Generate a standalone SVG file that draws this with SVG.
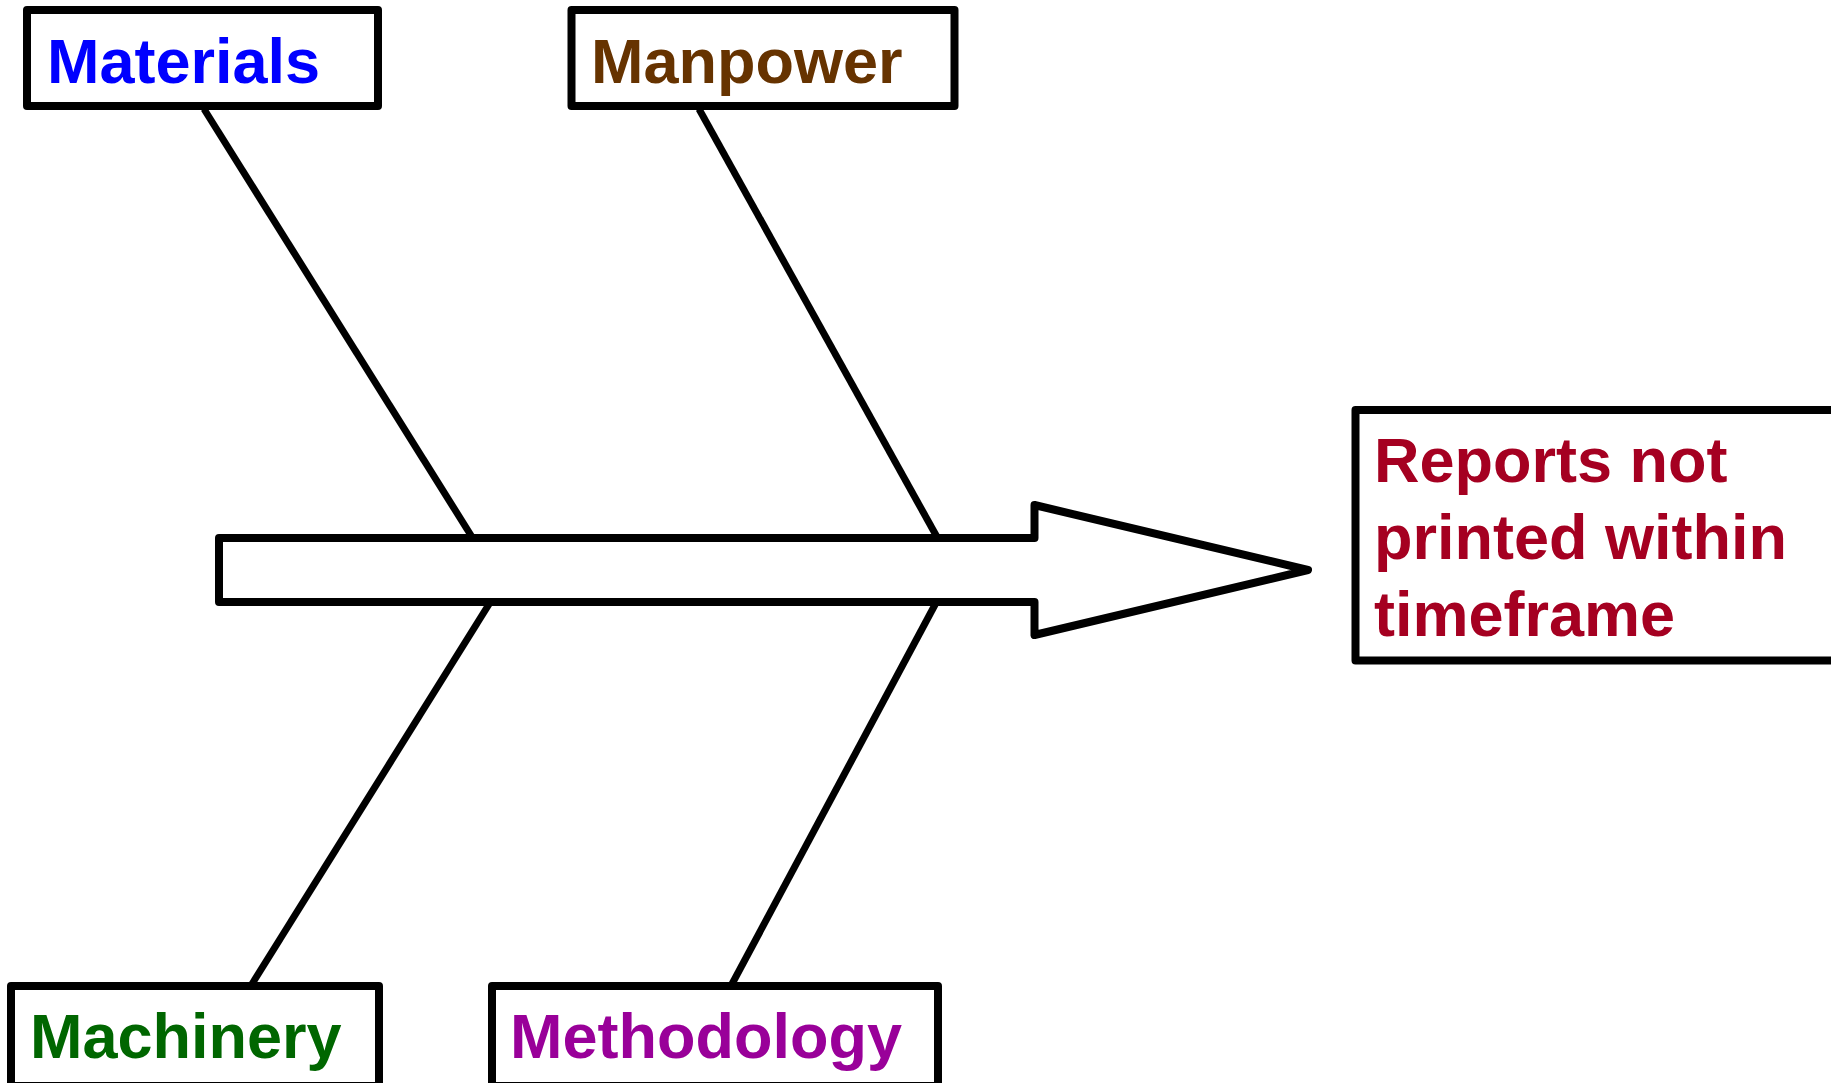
<svg xmlns="http://www.w3.org/2000/svg" width="1831" height="1083" viewBox="0 0 1831 1083">
<style>
.box{fill:#fff;stroke:#000;stroke-width:8;stroke-linejoin:round}
.bone{stroke:#000;stroke-width:7;fill:none}
.lbl{font-family:"Liberation Sans",Arial,sans-serif;font-weight:bold;font-size:63px}
</style>
<rect width="1831" height="1083" fill="#fff"/>
<g id="connectors">
<line class="bone" x1="204" y1="109" x2="472" y2="537"/>
<line class="bone" x1="699" y1="109" x2="937" y2="537"/>
<line class="bone" x1="491" y1="601" x2="252" y2="984"/>
<line class="bone" x1="937" y1="601" x2="732" y2="984"/>
</g>
<g id="spine">
<path class="box" d="M219,538 H1034.5 V505 L1308,570 L1034.5,635 V602 H219 Z"/>
</g>
<g id="materials">
<rect class="box" x="27" y="10" width="351" height="96"/>
<text class="lbl" x="47" y="83" fill="#0000FF">Materials</text>
</g>
<g id="manpower">
<rect class="box" x="571.5" y="10" width="383" height="96"/>
<text class="lbl" x="591" y="83" fill="#663300">Manpower</text>
</g>
<g id="machinery">
<rect class="box" x="11" y="986" width="368" height="100"/>
<text class="lbl" x="30" y="1058" fill="#006600">Machinery</text>
</g>
<g id="methodology">
<rect class="box" x="492" y="986" width="446" height="100"/>
<text class="lbl" x="510" y="1058" fill="#990099">Methodology</text>
</g>
<g id="effect">
<rect class="box" x="1355.5" y="410" width="500" height="250.5"/>
<text class="lbl" fill="#A50021"><tspan x="1374" y="482">Reports not</tspan><tspan x="1374" y="559">printed within</tspan><tspan x="1374" y="636">timeframe</tspan></text>
</g>
</svg>
